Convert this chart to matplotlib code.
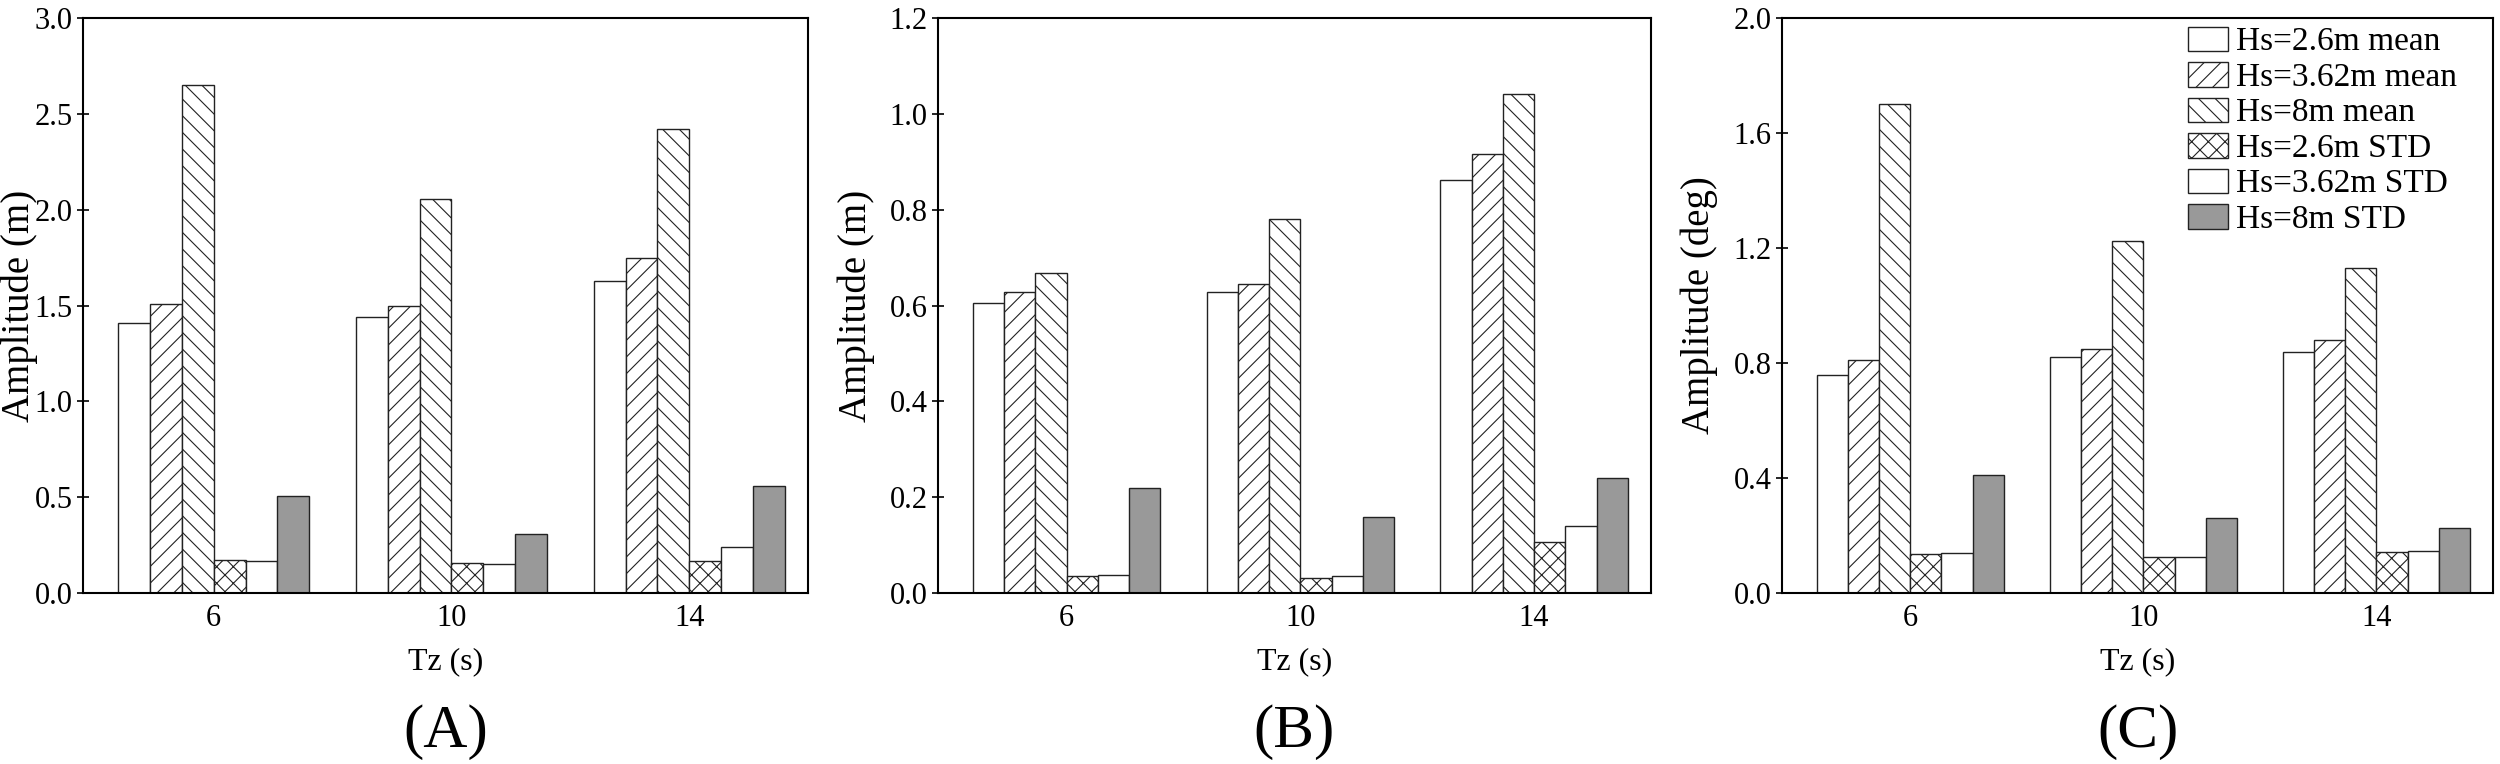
import matplotlib
matplotlib.use("Agg")
import matplotlib.pyplot as plt
import numpy as np

plt.rcParams['font.family'] = ['Liberation Serif', 'DejaVu Serif']
plt.rcParams['hatch.linewidth'] = 0.8

# data
tz = [6, 10, 14]
series = ["Hs=2.6m mean", "Hs=3.62m mean", "Hs=8m mean",
          "Hs=2.6m STD", "Hs=3.62m STD", "Hs=8m STD"]

# panel A: amplitude (m)
a_vals = [
    [1.41, 1.44, 1.63],
    [1.51, 1.50, 1.75],
    [2.65, 2.055, 2.42],
    [0.17, 0.156, 0.167],
    [0.167, 0.15, 0.24],
    [0.506, 0.31, 0.557],
]
# panel B: amplitude (m)
b_vals = [
    [0.605, 0.628, 0.862],
    [0.628, 0.645, 0.916],
    [0.668, 0.78, 1.042],
    [0.035, 0.031, 0.106],
    [0.038, 0.035, 0.14],
    [0.22, 0.159, 0.24],
]
# panel C: amplitude (deg)
c_vals = [
    [0.76, 0.82, 0.84],
    [0.81, 0.85, 0.88],
    [1.70, 1.225, 1.13],
    [0.135, 0.125, 0.142],
    [0.14, 0.125, 0.145],
    [0.41, 0.26, 0.225],
]

ylabels = ["Amplitude (m)", "Amplitude (m)", "Amplitude (deg)"]
ylims = [3.0, 1.2, 2.0]
ysteps = [0.5, 0.2, 0.4]
panel_tags = ["(A)", "(B)", "(C)"]

hatches = ["", "//", "\\\\", "xx", "", ""]
faces = ["white", "white", "white", "white", "white", "#999999"]

fig = plt.figure(figsize=(25, 7.64), dpi=100)
boxes = [
    [0.0332, 0.2238, 0.290, 0.7526],
    [0.3752, 0.2238, 0.2852, 0.7526],
    [0.7128, 0.2238, 0.2844, 0.7526],
]
# label x positions (right edge of the rotated label, axes coords)
ylab_x = [-0.062, -0.088, -0.09]

w = 0.535
x = np.array(tz, dtype=float)

for k, vals in enumerate([a_vals, b_vals, c_vals]):
    ax = fig.add_axes(boxes[k])
    for i in range(6):
        ax.bar(x + (i - 2.5) * w, vals[i], width=w, color=faces[i],
               edgecolor="#222222", linewidth=1.0, hatch=hatches[i],
               label=series[i])
    ax.set_xlim(3.8, 16.0)
    ax.set_ylim(0, ylims[k])
    ax.set_yticks(np.arange(0, ylims[k] + 1e-9, ysteps[k]))
    ax.yaxis.set_major_formatter(matplotlib.ticker.FormatStrFormatter('%.1f'))
    ax.set_xticks(tz)
    ax.tick_params(axis='x', length=0, labelsize=22, pad=8)
    ax.tick_params(axis='y', direction='inout', length=8, width=1.2, labelsize=22)
    for s in ax.spines.values():
        s.set_linewidth(1.5)
    ax.set_ylabel(ylabels[k], fontsize=28)
    ax.yaxis.set_label_coords(ylab_x[k], 0.5)
    cx = boxes[k][0] + boxes[k][2] / 2
    fig.text(cx, 0.134, "Tz (s)", ha='center', va='center', fontsize=23)
    fig.text(cx, 0.042, panel_tags[k], ha='center', va='center', fontsize=44)
    if k == 2:
        ax.legend(loc='upper left', bbox_to_anchor=(0.571, 0.985), frameon=False,
                  fontsize=24, handlelength=1.2, handleheight=0.75,
                  labelspacing=0.14, handletextpad=0.25, borderpad=0,
                  borderaxespad=0)

fig.savefig("out.png", dpi=100)
